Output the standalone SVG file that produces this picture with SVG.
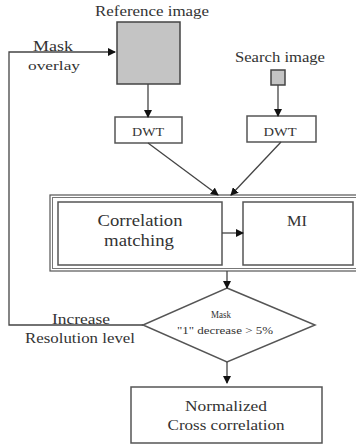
<svg xmlns="http://www.w3.org/2000/svg" width="356" height="447" viewBox="0 0 356 447">
<style>
.box{fill:#fff;stroke:#555;stroke-width:1.5}
.img{fill:#c4c4c4;stroke:#444;stroke-width:1.5}
.ln{fill:none;stroke:#444;stroke-width:1.3}
text{font-family:'Liberation Serif','DejaVu Serif','Times New Roman',serif;fill:#333;text-anchor:middle}
</style>
<defs>
<marker id="ah" markerWidth="8" markerHeight="8" refX="7" refY="4" orient="auto" markerUnits="userSpaceOnUse">
<path d="M0,0 L8,4 L0,8 Z" fill="#111"/>
</marker>
</defs>
<rect width="356" height="447" fill="#fff"/>
<g id="reference">
<text x="152" y="16" font-size="15" textLength="114" lengthAdjust="spacingAndGlyphs">Reference image</text>
<rect class="img" x="117" y="22" width="63" height="62"/>
</g>
<g id="search">
<text x="280" y="62" font-size="15" textLength="90" lengthAdjust="spacingAndGlyphs">Search image</text>
<rect class="img" x="271" y="70" width="14" height="15"/>
</g>
<g id="dwt1">
<rect class="box" x="115" y="117" width="67" height="26"/>
<text x="148" y="136" font-size="12" textLength="32" lengthAdjust="spacingAndGlyphs">DWT</text>
</g>
<g id="dwt2">
<rect class="box" x="247" y="116" width="69" height="26"/>
<text x="280" y="136" font-size="12" textLength="33" lengthAdjust="spacingAndGlyphs">DWT</text>
</g>
<g id="matching">
<rect x="50" y="195" width="310" height="76" fill="none" stroke="#555" stroke-width="1.2"/>
<rect x="52.5" y="197.5" width="310" height="71" fill="none" stroke="#777" stroke-width="1"/>
</g>
<g id="correlation">
<rect class="box" x="58" y="202" width="164" height="63"/>
<text x="140" y="226" font-size="16.5" textLength="85" lengthAdjust="spacingAndGlyphs">Correlation</text>
<text x="139" y="246" font-size="16.5" textLength="70" lengthAdjust="spacingAndGlyphs">matching</text>
</g>
<g id="mi">
<rect class="box" x="243" y="202" width="110" height="63"/>
<text x="297" y="226" font-size="15" textLength="20" lengthAdjust="spacingAndGlyphs">MI</text>
</g>
<g id="decision">
<path class="box" d="M227,288 L315,325 L227,362 L143,325 Z" stroke-width="1.3"/>
<text x="221" y="318" font-size="10" textLength="20" lengthAdjust="spacingAndGlyphs">Mask</text>
<text x="225" y="334" font-size="11" textLength="96" lengthAdjust="spacingAndGlyphs">"1" decrease &gt; 5%</text>
</g>
<g id="normalized">
<rect class="box" x="131" y="387" width="191" height="56"/>
<text x="226" y="411" font-size="15.5" textLength="82" lengthAdjust="spacingAndGlyphs">Normalized</text>
<text x="226" y="430" font-size="15.5" textLength="117" lengthAdjust="spacingAndGlyphs">Cross correlation</text>
</g>
<g id="labels">
<text x="53" y="51" font-size="15" textLength="40" lengthAdjust="spacingAndGlyphs">Mask</text>
<text x="54" y="70" font-size="13" textLength="52" lengthAdjust="spacingAndGlyphs">overlay</text>
<text x="81" y="324" font-size="15" textLength="58" lengthAdjust="spacingAndGlyphs">Increase</text>
<text x="80" y="343" font-size="15" textLength="110" lengthAdjust="spacingAndGlyphs">Resolution level</text>
</g>
<g id="connectors">
<path class="ln" d="M143,325 L9,325 L9,52 L115,52" marker-end="url(#ah)"/>
<path class="ln" d="M148,84 L148,117" marker-end="url(#ah)"/>
<path class="ln" d="M278,85 L278,116" stroke="#888" marker-end="url(#ah)"/>
<path class="ln" d="M148,143 L218,195" marker-end="url(#ah)"/>
<path class="ln" d="M281,142 L231,195" marker-end="url(#ah)"/>
<path class="ln" d="M222,233 L243,233" marker-end="url(#ah)"/>
<path class="ln" d="M227,271 L227,288" marker-end="url(#ah)"/>
<path class="ln" d="M227,362 L227,383" marker-end="url(#ah)"/>
</g>
</svg>
